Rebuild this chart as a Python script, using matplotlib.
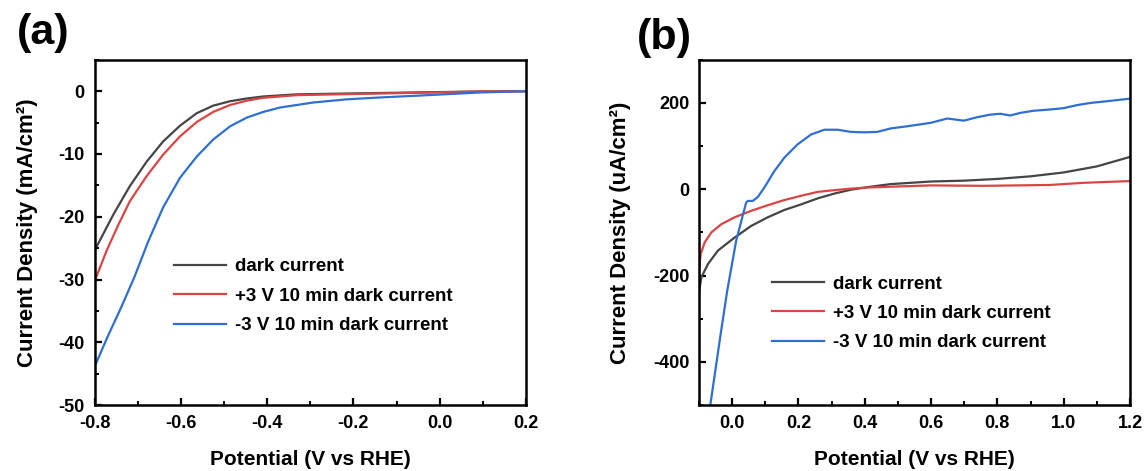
import matplotlib
matplotlib.use("Agg")
import matplotlib.pyplot as plt
from matplotlib.ticker import MultipleLocator

# ---- panel (a) data: mA/cm2 vs potential ----
a_dark_x = [-0.8, -0.756, -0.718, -0.679, -0.641, -0.602, -0.563, -0.525, -0.486,
            -0.447, -0.409, -0.332, -0.216, -0.06, 0.09, 0.2]
a_dark_y = [-25.4, -19.6, -15.1, -11.2, -8.0, -5.5, -3.5, -2.3, -1.6,
            -1.16, -0.84, -0.5, -0.37, -0.2, -0.05, 0.0]

a_pos_x = [-0.8, -0.772, -0.745, -0.718, -0.679, -0.641, -0.602, -0.563, -0.525,
           -0.486, -0.447, -0.409, -0.332, -0.216, -0.06, 0.09, 0.2]
a_pos_y = [-30.3, -25.4, -21.3, -17.5, -13.5, -10.1, -7.2, -4.9, -3.3,
           -2.2, -1.5, -1.05, -0.63, -0.47, -0.26, -0.05, 0.0]

a_neg_x = [-0.8, -0.769, -0.738, -0.707, -0.676, -0.641, -0.602, -0.563, -0.525,
           -0.486, -0.447, -0.409, -0.370, -0.293, -0.216, -0.139, -0.06, 0.017,
           0.094, 0.2]
a_neg_y = [-43.9, -39.0, -34.4, -29.5, -24.0, -18.5, -13.8, -10.4, -7.7,
           -5.6, -4.2, -3.3, -2.6, -1.8, -1.3, -1.0, -0.74, -0.47,
           -0.2, 0.0]

# ---- panel (b) data: uA/cm2 vs potential ----
b_dark_x = [-0.1, -0.098, -0.093, -0.073, -0.043, 0.007, 0.057, 0.107, 0.157,
            0.208, 0.258, 0.308, 0.358, 0.408, 0.478, 0.599, 0.7, 0.8, 0.9,
            1.0, 1.1, 1.2]
b_dark_y = [-240, -227, -204, -173, -142, -112, -85, -65, -48,
            -35, -21, -10, -1, 5, 12, 18, 20, 24, 30,
            39, 53, 75]

b_pos_x = [-0.1, -0.0995, -0.098, -0.095, -0.083, -0.063, -0.033, 0.007, 0.057,
           0.107, 0.157, 0.208, 0.258, 0.308, 0.358, 0.408, 0.478, 0.599,
           0.759, 0.959, 1.06, 1.2]
b_pos_y = [-205, -190, -170, -150, -123, -100, -81, -65, -50,
           -37, -25, -15, -6, -2, 1.5, 4, 6, 9,
           8, 10, 15, 19]

b_neg_x = [-0.068, -0.033, -0.015, 0.012, 0.042, 0.047, 0.062, 0.077, 0.097,
           0.127, 0.157, 0.197, 0.238, 0.278, 0.318, 0.358, 0.398, 0.438,
           0.478, 0.528, 0.599, 0.649, 0.699, 0.739, 0.779, 0.809, 0.839,
           0.869, 0.909, 0.96, 1.0, 1.04, 1.08, 1.13, 1.2]
b_neg_y = [-510, -326, -235, -119, -31, -27, -27, -18, 4,
           42, 73, 104, 127, 138, 138, 133, 132, 133,
           141, 146, 154, 164, 159, 167, 173, 175, 171,
           177, 182, 185, 188, 195, 200, 204, 210]

labels = ["dark current", "+3 V 10 min dark current", "-3 V 10 min dark current"]
colors = ["#454545", "#d94545", "#2f6fd2"]

plt.rcParams["font.family"] = ["Liberation Sans", "DejaVu Sans"]
plt.rcParams["font.weight"] = "bold"
plt.rcParams["axes.labelweight"] = "bold"
plt.rcParams["axes.unicode_minus"] = False

fig = plt.figure(figsize=(11.46, 4.71), dpi=100)
ax_a = fig.add_axes([0.0825, 0.140, 0.3765, 0.733])
ax_b = fig.add_axes([0.610, 0.140, 0.376, 0.733])


def style_axes(ax):
    for sp in ax.spines.values():
        sp.set_linewidth(1.8)
    ax.tick_params(which="both", direction="in", top=False, right=False,
                   labelsize=13, pad=7)
    ax.tick_params(which="major", length=5, width=1.6)
    ax.tick_params(which="minor", length=3, width=1.4)
    ax.set_xlabel("Potential (V vs RHE)", fontsize=15, labelpad=13)


for x, y, c, lab in zip([a_dark_x, a_pos_x, a_neg_x], [a_dark_y, a_pos_y, a_neg_y], colors, labels):
    ax_a.plot(x, y, color=c, lw=1.6, label=lab)
ax_a.set_xlim(-0.8, 0.2)
ax_a.set_ylim(-50, 5)
ax_a.xaxis.set_major_locator(MultipleLocator(0.2))
ax_a.xaxis.set_minor_locator(MultipleLocator(0.1))
ax_a.yaxis.set_major_locator(MultipleLocator(10))
ax_a.yaxis.set_minor_locator(MultipleLocator(5))
style_axes(ax_a)
ax_a.set_ylabel("Current Density (mA/cm²)", fontsize=16, labelpad=15)
ax_a.legend(loc="upper left", bbox_to_anchor=(0.184, 0.425), frameon=False,
            fontsize=13.5, handlelength=2.8, handletextpad=0.45,
            labelspacing=0.65, borderpad=0, borderaxespad=0)

for x, y, c, lab in zip([b_dark_x, b_pos_x, b_neg_x], [b_dark_y, b_pos_y, b_neg_y], colors, labels):
    ax_b.plot(x, y, color=c, lw=1.6, label=lab)
ax_b.set_xlim(-0.1, 1.2)
ax_b.set_ylim(-500, 300)
ax_b.xaxis.set_major_locator(MultipleLocator(0.2))
ax_b.xaxis.set_minor_locator(MultipleLocator(0.1))
ax_b.yaxis.set_major_locator(MultipleLocator(200))
ax_b.yaxis.set_minor_locator(MultipleLocator(100))
style_axes(ax_b)
ax_b.set_ylabel("Current Density (uA/cm²)", fontsize=16, labelpad=16)
ax_b.legend(loc="upper left", bbox_to_anchor=(0.169, 0.375), frameon=False,
            fontsize=13.5, handlelength=2.8, handletextpad=0.45,
            labelspacing=0.65, borderpad=0, borderaxespad=0)

fig.text(0.038, 0.93, "(a)", fontsize=31, fontweight="bold", ha="center", va="center")
fig.text(0.580, 0.92, "(b)", fontsize=31, fontweight="bold", ha="center", va="center")

fig.savefig("out.png", dpi=100)
